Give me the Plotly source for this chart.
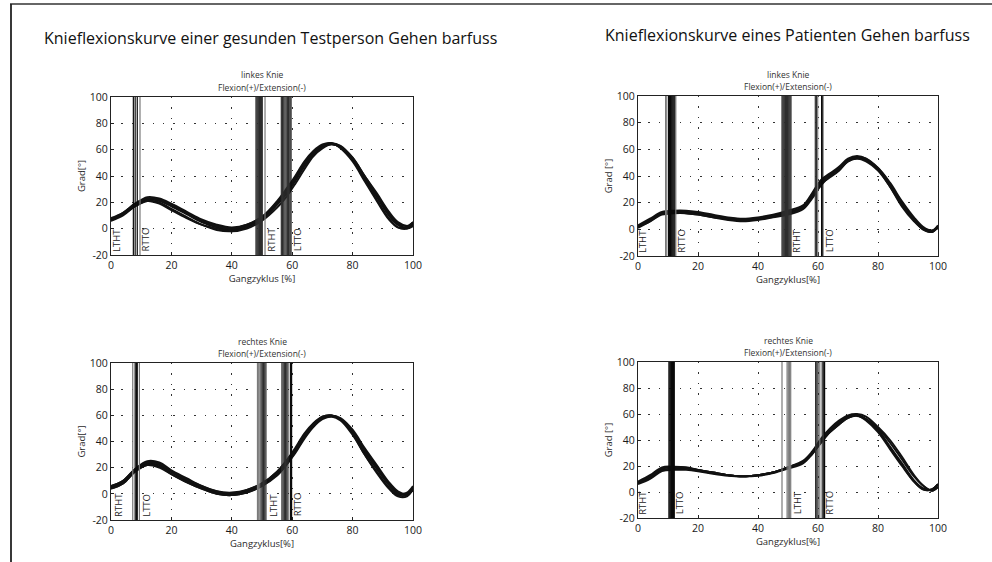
import plotly.graph_objects as go

# ---------------- data ----------------
x_pct = [0, 4, 8, 12, 16, 20, 25, 30, 35, 40, 45, 50, 55, 58, 61, 64, 67, 70, 73, 76, 80, 84, 88, 92, 95, 98, 100]

y_tick_vals = [-20, 0, 20, 40, 60, 80, 100]
y_tick_text = ["-20", "0", "20", "40", "60", "80", "100"]

# healthy subject, left knee (top left)
tl_trials = [
    [7, 11, 18, 22, 21, 17, 11, 5, 1, -1, 2, 8, 19, 27, 37, 48, 57, 62.5, 64.5, 62, 53, 38, 24, 10, 3, 1, 3],
    [6, 10, 17, 21, 20, 15, 9, 3, -1, -2, 1, 7, 18, 26, 36, 47, 56, 62, 64, 62, 53, 39, 25, 11, 3, 0, 2],
    [7, 12, 19, 24, 23, 19, 13, 7, 3, 1, 3, 9, 20, 29, 39, 50, 58, 63, 65, 63, 54, 40, 26, 12, 4, 2, 5],
    [8, 12, 19, 23, 22, 18, 12, 6, 2, 0, 2, 8, 19, 28, 38, 49, 57, 63, 65, 62.5, 52, 37, 22, 8, 1, 0, 4],
    [6, 11, 17, 21, 19, 14, 8, 3, 0, -2, 0, 6, 16, 24, 34, 45, 55, 61, 64, 62, 54, 40, 27, 13, 5, 2, 2],
    [7, 11, 18, 23, 22, 18, 12, 6, 2, 0, 3, 9, 21, 30, 40, 51, 59, 64, 65, 61, 51, 36, 21, 7, 1, 1, 5],
]
# patient, left knee (top right)
tr_trials = [
    [2, 7, 12, 13, 13, 12, 10, 8.5, 7.5, 8, 10, 12.5, 17, 25, 35, 41, 46, 52, 54, 52, 45, 33, 19, 8, 1, -1, 2],
    [1, 6, 11, 12, 12, 11, 9, 7, 6, 7, 9, 11, 15, 23, 33, 40, 45, 51, 53, 52, 46, 35, 21, 9, 2, -1, 1],
    [3, 8, 13, 14, 14, 13, 11, 9, 8, 9, 11, 14, 18, 27, 37, 42, 47, 53, 55, 53, 45, 32, 17, 6, 0, -2, 2],
    [2, 7, 12, 13, 13, 12, 10, 8, 7, 8, 10, 13, 17, 26, 36, 41, 46, 52, 54, 53, 46, 34, 20, 8, 1, -1, 3],
    [2, 6, 12, 13, 12, 11, 9, 8, 7, 8, 10, 12, 16, 24, 34, 39, 44, 51, 53, 51, 44, 32, 18, 7, 0, -2, 2],
]
# healthy subject, right knee (bottom left)
bl_trials = [
    [5, 9, 18, 23, 22, 16.5, 10, 5, 1, 0, 2, 7, 16, 24, 33, 44, 52, 58, 59.5, 57, 47, 32, 19, 7, 0, 0, 4],
    [4, 8, 17, 22, 21, 15, 9, 4, 0, -1, 1, 6, 15, 22, 31, 42, 51, 57, 59, 57, 48, 34, 21, 8, 1, -1, 3],
    [6, 10, 19, 25, 24, 18, 12, 6, 2, 0, 3, 8, 17, 25, 35, 46, 54, 59, 60, 57, 46, 30, 17, 5, -1, -1, 5],
    [5, 9, 18, 24, 23, 17, 11, 5, 1, -1, 2, 7, 16, 23, 33, 44, 53, 58, 60, 58, 49, 35, 22, 9, 2, 0, 3],
    [4, 8, 17, 22, 20, 15, 9, 4, 0, -1, 1, 6, 14, 22, 32, 43, 52, 58, 59, 56, 45, 30, 16, 4, -2, -2, 4],
    [6, 10, 19, 24, 23, 17, 11, 6, 2, 1, 3, 8, 17, 25, 34, 45, 53, 59, 60, 57, 48, 33, 20, 7, 0, 1, 6],
]
# patient, right knee (bottom right)
br_trials = [
    [7, 12, 18, 19, 18.5, 17, 15, 13, 12, 13, 15, 19, 23, 30, 39, 47, 53, 58, 59, 56, 48, 35, 22, 9, 3, 2, 6],
    [6, 10, 16, 17, 17, 16, 14, 12.5, 12, 12.5, 14.5, 18, 22, 29, 38, 46, 52, 57, 58.5, 56, 49, 38, 25, 12, 5, 1, 4],
    [8, 13, 19, 19.5, 19, 17, 15, 13, 12, 13, 15, 19, 24, 31, 41, 49, 55, 59, 60, 58, 50, 40, 27, 13, 5, 1, 4],
    [7, 11, 17, 18, 18, 16.5, 14.5, 13, 12, 13, 15, 19, 23, 29, 38, 46, 52, 57, 59, 56, 47, 34, 21, 8, 2, 2, 6],
    [7, 12, 18, 19, 18.5, 17, 15, 13, 12, 13, 15, 19, 23, 30, 40, 48, 54, 58, 59, 55, 46, 33, 20, 8, 2, 2, 6],
]

# gait event lines (x in % gait cycle) and their shade (k = black, d = dark grey, g = grey)
tl_event_x = [7.4, 8.0, 8.7, 9.6, 48.0, 48.3, 48.6, 48.9, 49.2, 49.5, 49.8, 50.1, 51.0,
              56.4, 56.8, 57.2, 57.6, 58.0, 58.4, 58.8, 59.2, 59.6]
tl_event_c = ["k", "k", "k", "g", "d", "d", "d", "d", "d", "d", "d", "d", "g",
              "d", "d", "d", "d", "d", "d", "d", "d", "k"]
tr_event_x = [9.2, 9.6, 10.2, 10.5, 10.8, 11.1, 11.4, 11.7, 12.0, 12.3, 12.6,
              48.0, 48.3, 48.6, 48.9, 49.2, 49.5, 49.8, 50.1, 50.4, 50.7, 51.0,
              59.1, 59.5, 59.9, 61.2, 61.6]
tr_event_c = ["g", "g", "k", "k", "k", "k", "k", "k", "k", "k", "g",
              "d", "d", "d", "d", "d", "d", "d", "d", "d", "d", "d",
              "d", "d", "g", "k", "k"]
bl_event_x = [7.2, 8.0, 8.4, 8.7, 9.4, 48.5, 48.9, 49.3, 49.7, 50.1, 50.5, 50.9, 51.3,
              56.6, 57.0, 57.4, 57.8, 58.2, 58.6, 59.4, 59.8]
bl_event_c = ["g", "k", "k", "k", "g", "g", "g", "g", "d", "d", "d", "d", "d",
              "d", "d", "d", "d", "d", "d", "k", "k"]
br_event_x = [10.3, 10.6, 10.9, 11.2, 11.5, 11.8, 12.1, 48.0, 49.7, 50.1, 50.5, 50.9,
              59.2, 59.6, 60.0, 60.6, 61.4, 61.8, 62.2]
br_event_c = ["k", "k", "k", "k", "k", "k", "k", "g", "g", "g", "g", "g",
              "d", "d", "d", "g", "d", "d", "k"]

# event label text and x position
tl_labels = ["LTHT", "RTTO", "RTHT", "LTTO"]
tl_label_x = [1.6, 11.5, 53.3, 61.6]
tr_labels = ["LTHT", "RTTO", "RTHT", "LTTO"]
tr_label_x = [1.3, 14.4, 52.8, 63.7]
bl_labels = ["RTHT", "LTTO", "LTHT", "RTTO"]
bl_label_x = [2.4, 11.8, 53.6, 61.8]
br_labels = ["RTHT", "LTTO", "LTHT", "RTTO"]
br_label_x = [1.7, 13.7, 53.0, 64.0]

panel_titles = ["linkes Knie", "linkes Knie", "rechtes Knie", "rechtes Knie"]
panel_subtitle = "Flexion(+)/Extension(-)"
y_titles = ["Grad[°]", "Grad [°]", "Grad[°]", "Grad [°]"]
x_titles = ["Gangzyklus [%]", "Gangzyklus[%]", "Gangzyklus[%]", "Gangzyklus[%]"]
main_titles = ["Knieflexionskurve einer gesunden Testperson Gehen barfuss",
               "Knieflexionskurve eines Patienten Gehen barfuss"]

# ---------------- layout geometry (pixels) ----------------
W, H = 992, 562
FONT = "Open Sans"
boxes = [  # left, right, top, bottom in px
    (111, 413, 97, 255),
    (638, 938, 96, 256),
    (111, 413, 363, 520),
    (638, 938, 362, 518),
]
shade_col = {"k": "#0a0a0a", "d": "#2e2e2e", "g": "#7a7a7a"}

panels = [
    (tl_trials, tl_event_x, tl_event_c, tl_labels, tl_label_x),
    (tr_trials, tr_event_x, tr_event_c, tr_labels, tr_label_x),
    (bl_trials, bl_event_x, bl_event_c, bl_labels, bl_label_x),
    (br_trials, br_event_x, br_event_c, br_labels, br_label_x),
]

fig = go.Figure()
shapes = []
annotations = []
layout = {}

for i, (trials, ex, ec, labs, labx) in enumerate(panels):
    n = i + 1
    sx = "" if n == 1 else str(n)
    xa, ya = "x" + sx, "y" + sx
    l, r, t, b = boxes[i]
    layout["xaxis" + sx] = dict(
        domain=[l / W, r / W], range=[0, 100], anchor=ya, dtick=20,
        showline=True, mirror=True, linecolor="#222", linewidth=1.2,
        ticks="inside", ticklen=3, tickcolor="#222",
        showgrid=True, gridcolor="#333", gridwidth=1.4, griddash="1.4px,9px",
        zeroline=False, tickfont=dict(family=FONT, size=10.5, color="#1a1a1a"),
        title=dict(text=x_titles[i], font=dict(family=FONT, size=9.5, color="#2a2a2a"), standoff=4),
        automargin=False, fixedrange=True,
    )
    layout["yaxis" + sx] = dict(
        domain=[1 - b / H, 1 - t / H], range=[-20, 100], anchor=xa,
        tickmode="array", tickvals=y_tick_vals, ticktext=y_tick_text,
        showline=True, mirror=True, linecolor="#222", linewidth=1.2,
        ticks="inside", ticklen=3, tickcolor="#222",
        showgrid=True, gridcolor="#333", gridwidth=1.4, griddash="1.4px,9px",
        zeroline=False, tickfont=dict(family=FONT, size=10.5, color="#1a1a1a"),
        title=dict(text=y_titles[i], font=dict(family=FONT, size=9.5, color="#2a2a2a"), standoff=2),
        automargin=False, fixedrange=True,
    )
    for tr in trials:
        fig.add_trace(go.Scatter(x=x_pct, y=tr, xaxis=xa, yaxis=ya, mode="lines",
                                 line=dict(color="#111", width=1.9, shape="spline", smoothing=1.0),
                                 showlegend=False, hoverinfo="skip"))
    for xv, cv in zip(ex, ec):
        shapes.append(dict(type="line", xref=xa, yref=ya + " domain", x0=xv, x1=xv, y0=0, y1=1,
                           line=dict(color=shade_col[cv], width=1.2), layer="above"))
    for txt, xv in zip(labs, labx):
        annotations.append(dict(text=txt, x=xv, y=-19, xref=xa, yref=ya, textangle=-90,
                                xanchor="center", yanchor="bottom", showarrow=False,
                                font=dict(family=FONT, size=9.5, color="#222")))
    cx = (l + r) / 2 / W
    annotations.append(dict(text=panel_titles[i], x=cx, y=1 - (t - 22) / H, xref="paper", yref="paper",
                            showarrow=False, xanchor="center", yanchor="middle",
                            font=dict(family=FONT, size=8.5, color="#333")))
    annotations.append(dict(text=panel_subtitle, x=cx, y=1 - (t - 10) / H, xref="paper", yref="paper",
                            showarrow=False, xanchor="center", yanchor="middle",
                            font=dict(family=FONT, size=8.5, color="#333")))

annotations.append(dict(text=main_titles[0], x=42 / W, y=1 - 38 / H, xref="paper", yref="paper",
                        showarrow=False, xanchor="left", yanchor="middle",
                        font=dict(family=FONT, size=16, color="#111")))
annotations.append(dict(text=main_titles[1], x=603 / W, y=1 - 35 / H, xref="paper", yref="paper",
                        showarrow=False, xanchor="left", yanchor="middle",
                        font=dict(family=FONT, size=16, color="#111")))

# outer frame (top and left edges)
shapes.append(dict(type="line", xref="paper", yref="paper", x0=10 / W, x1=1, y0=1 - 4 / H, y1=1 - 4 / H,
                   line=dict(color="#333", width=1.5)))
shapes.append(dict(type="line", xref="paper", yref="paper", x0=11 / W, x1=11 / W, y0=0, y1=1 - 4 / H,
                   line=dict(color="#222", width=1.8)))

fig.update_layout(width=W, height=H, margin=dict(l=0, r=0, t=0, b=0),
                  paper_bgcolor="white", plot_bgcolor="white",
                  shapes=shapes, annotations=annotations, showlegend=False, **layout)

fig.write_html("out.html", config={"displayModeBar": False},
               post_script="document.body.style.margin='0px';document.body.style.overflow='hidden';")
